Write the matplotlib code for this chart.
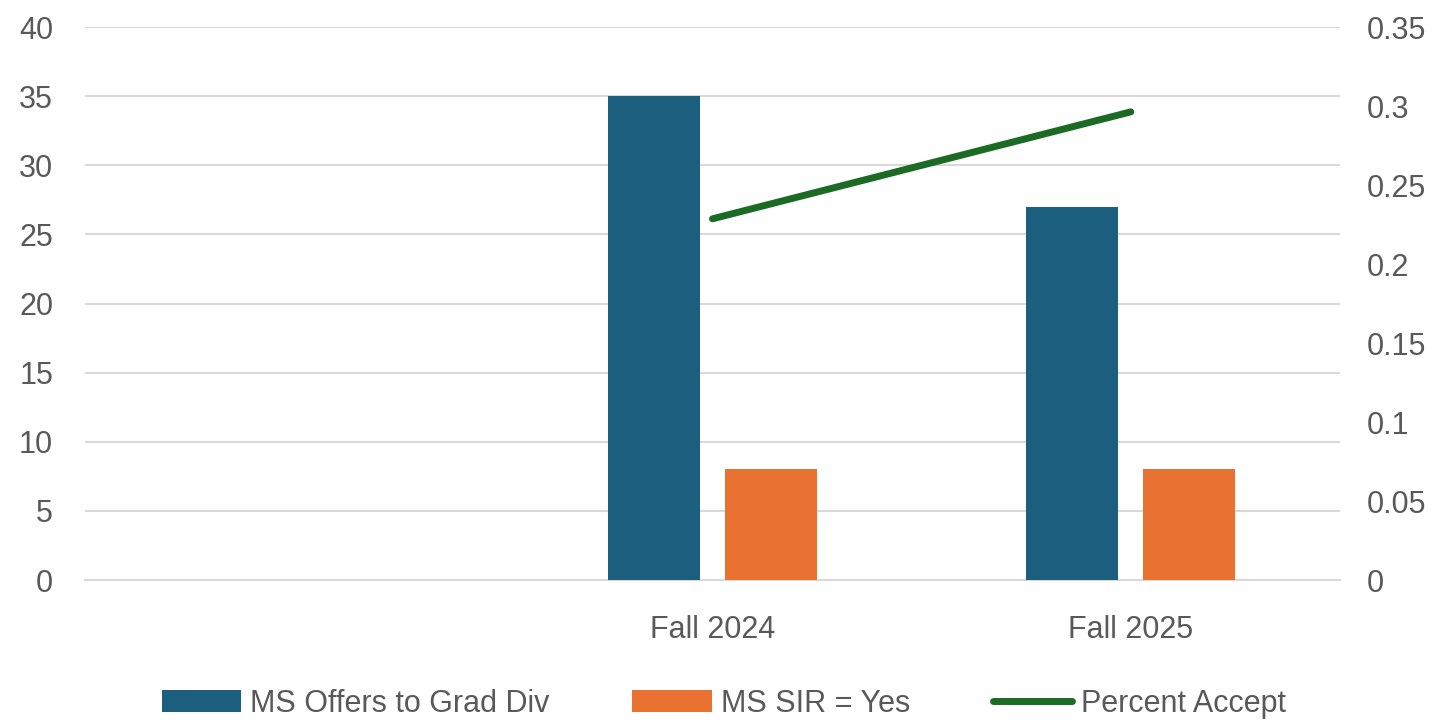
import matplotlib.pyplot as plt
import numpy as np

# data
categories = ["", "Fall 2024", "Fall 2025"]
ms_offers = [0, 35, 27]
ms_sir = [0, 8, 8]
pct_accept = [None, 0.2286, 0.2963]

blue = "#1b5e7e"
orange = "#e97132"
green = "#1c6b25"
grey_txt = "#595959"

plt.rcParams['font.family'] = ['Liberation Sans', 'DejaVu Sans']

fig = plt.figure(figsize=(14.48, 7.26), dpi=100)
ax = fig.add_axes([0.0587, 0.2011, 0.8667, 0.7617])
ax2 = ax.twinx()

x = np.arange(len(categories))
w = 0.22
gap = 0.06
ax.bar(x - (w + gap) / 2, ms_offers, w, color=blue, label="MS Offers to Grad Div", zorder=3)
ax.bar(x + (w + gap) / 2, ms_sir, w, color=orange, label="MS SIR = Yes", zorder=3)

px = [i for i, v in enumerate(pct_accept) if v is not None]
py = [v for v in pct_accept if v is not None]
ax2.plot(px, py, color=green, lw=5, solid_capstyle='round', label="Percent Accept")

ax.set_xlim(-0.5, len(categories) - 0.5)
ax.set_ylim(0, 40)
ax.set_yticks(range(0, 41, 5))
ax2.set_ylim(0, 0.35)
ax2.set_yticks([0, 0.05, 0.1, 0.15, 0.2, 0.25, 0.3, 0.35])
ax2.set_yticklabels(["0", "0.05", "0.1", "0.15", "0.2", "0.25", "0.3", "0.35"])

ax.set_xticks(x)
ax.set_xticklabels(categories)
ax.yaxis.grid(True, color="#d9d9d9", lw=1.5, zorder=0)
ax.set_axisbelow(True)

for a in (ax, ax2):
    for s in a.spines.values():
        s.set_visible(False)
    a.tick_params(length=0, labelsize=22, colors=grey_txt)
ax.tick_params(axis='y', pad=23)
ax2.tick_params(axis='y', pad=19)
ax.tick_params(axis='x', pad=25)
ax.spines['bottom'].set_visible(True)
ax.spines['bottom'].set_color("#d9d9d9")
ax.spines['bottom'].set_linewidth(1.5)

h1, l1 = ax.get_legend_handles_labels()
h2, l2 = ax2.get_legend_handles_labels()
fig.legend(h1 + h2, l1 + l2, loc='lower center', bbox_to_anchor=(0.5, -0.028), ncol=3,
           frameon=False, fontsize=22, labelcolor=grey_txt, handlelength=2.6,
           handleheight=0.7, columnspacing=2.7, handletextpad=0.3)

fig.savefig("out.png", dpi=100)
